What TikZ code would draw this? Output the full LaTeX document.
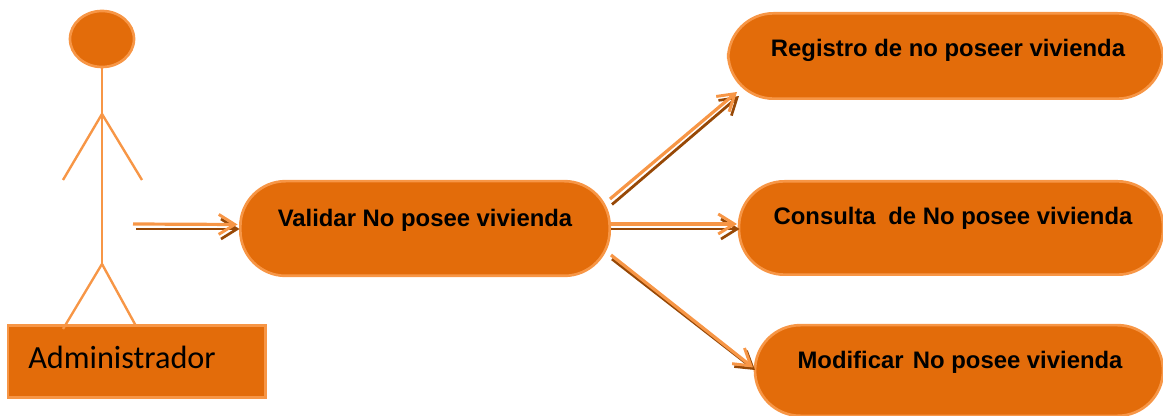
\documentclass[tikz,border=0pt]{standalone}
\usepackage{fontspec}
\setmainfont{Liberation Sans}
\newfontfamily\carl{Carlito}
\usetikzlibrary{arrows.meta,shapes.geometric}
\definecolor{fillor}{HTML}{E36C0A}
\definecolor{lineor}{HTML}{F79646}
\definecolor{darkor}{HTML}{974806}
\tikzset{
 x=0.75pt,y=-0.75pt,
 usecase/.style={draw=lineor,line width=2pt,fill=fillor,rounded corners=34pt,inner sep=0pt,anchor=center},
 casetext/.style={font=\bfseries\fontsize{17.9pt}{20pt}\selectfont,text=black,inner sep=0pt},
 limb/.style={draw=lineor,line width=1.8pt},
 lightarrow/.style={draw=lineor,line width=2.4pt,-{Straight Barb[length=12pt,width=15pt,line width=2.2pt]}},
 darkarrow/.style={draw=darkor,line width=2.1pt,-{Straight Barb[length=12pt,width=15pt,line width=2pt]}},
}
\begin{document}
\begin{tikzpicture}
\useasboundingbox (0,0) rectangle (1163,416);
% actor
\node[draw=lineor,line width=2pt,fill=fillor,ellipse,minimum width=48pt,minimum height=42pt,inner sep=0pt] (head) at (102,39) {};
\coordinate (neck) at (102,114);
\coordinate (hip) at (102,264);
\coordinate (handl) at (63,180);
\coordinate (handr) at (142,180);
\coordinate (footl) at (63,329);
\coordinate (footr) at (136,326);
\draw[limb] (head.south) -- (neck) -- (hip);
\draw[limb] (handl) -- (neck) -- (handr);
\node[draw=lineor,line width=2pt,fill=fillor,minimum width=193pt,minimum height=54pt,inner sep=0pt] (admin) at (136.5,361.5) {};
\draw[limb] (footl) -- (hip) -- (footr);
\node[font=\carl\fontsize{24.2pt}{28pt}\selectfont,text=black,anchor=west,inner sep=0pt] (admintext) at (28,357) {Administrador};
% use cases
\node[usecase,minimum width=277pt,minimum height=71pt] (validar) at (425,228.5) {};
\node[usecase,minimum width=326pt,minimum height=64pt] (registro) at (945.5,56) {};
\node[usecase,minimum width=318pt,minimum height=70pt] (consulta) at (951,228) {};
\node[usecase,minimum width=306pt,minimum height=68pt] (modificar) at (959,370.5) {};
\node[casetext] (t1) at (425,220) {Validar No posee vivienda};
\node[casetext] (t2) at (948,50) {Registro de no poseer vivienda};
\node[casetext] (t3) at (953,218) {Consulta\hspace{4.5pt} de No posee vivienda};
\node[casetext] (t4) at (960,362) {Modificar\hspace{2pt} No posee vivienda};
% arrow ends
\coordinate (a1) at (136,229);
\coordinate (a2) at (133,224);
\coordinate (b1) at (612,204.5);
\coordinate (b2) at (610,199);
\coordinate (c1) at (611,229);
\coordinate (c2) at (611,224);
\coordinate (d1) at (612,259);
\coordinate (d2) at (611,255);
\coordinate (A1) at (239.5,229);
\coordinate (A2) at (237.5,224.5);
\coordinate (B1) at (739,96);
\coordinate (B2) at (737,92);
\coordinate (C1) at (739.5,229);
\coordinate (C2) at (737,224);
\coordinate (D1) at (755,370);
\coordinate (D2) at (753,367.5);
\draw[darkarrow] (a1) -- (A1);
\draw[lightarrow] (a2) -- (A2);
\draw[darkarrow] (b1) -- (B1);
\draw[lightarrow] (b2) -- (B2);
\draw[darkarrow] (c1) -- (C1);
\draw[lightarrow] (c2) -- (C2);
\draw[darkarrow] (d1) -- (D1);
\draw[lightarrow] (d2) -- (D2);
\end{tikzpicture}
\end{document}
